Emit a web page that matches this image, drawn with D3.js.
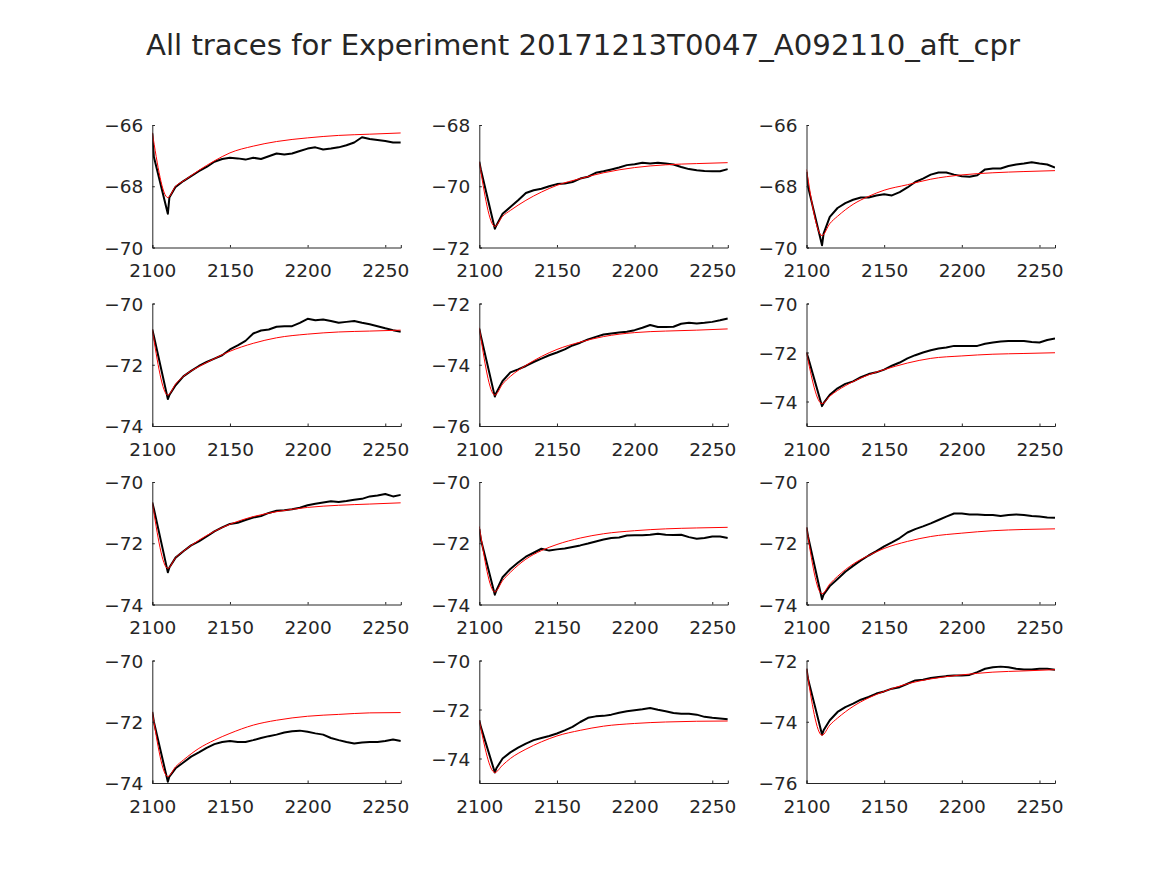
<!DOCTYPE html>
<html>
<head>
<meta charset="utf-8">
<script src="https://cdn.jsdelivr.net/npm/d3@7"></script>
<style>
  html, body { margin: 0; padding: 0; background: #ffffff; }
  svg { display: block; }
  text { font-family: "DejaVu Sans", sans-serif; fill: #262626; }
</style>
</head>
<body>
<div id="chart"></div>
<script>
const titleText = "All traces for Experiment 20171213T0047_A092110_aft_cpr";
const xDomain = [2100, 2260];
const xTicks = [2100, 2150, 2200, 2250];

// time samples for the recorded traces (black) and the fitted curves (red)
const traceTimes = [2100, 2101, 2110, 2111, 2115, 2120, 2125, 2130, 2135, 2140, 2145, 2150, 2155, 2160, 2165, 2170, 2175, 2180, 2185, 2190, 2195, 2200, 2205, 2210, 2215, 2220, 2225, 2230, 2235, 2240, 2245, 2250, 2255, 2260];
const fitTimes = [2100, 2110, 2115, 2120, 2130, 2140, 2150, 2165, 2180, 2200, 2220, 2240, 2260];

const yDomains = [[-70, -66], [-72, -68], [-70, -66], [-74, -70], [-76, -72], [-75, -70], [-74, -70], [-74, -70], [-74, -70], [-74, -70], [-75, -70], [-76, -72]];

const trace1 = [-66.27, -67.04, -68.90, -68.37, -68.02, -67.83, -67.67, -67.51, -67.37, -67.20, -67.11, -67.07, -67.09, -67.13, -67.07, -67.11, -67.02, -66.93, -66.96, -66.93, -66.85, -66.77, -66.73, -66.80, -66.77, -66.73, -66.66, -66.57, -66.40, -66.46, -66.49, -66.52, -66.57, -66.57];
const fit1 = [-66.25, -68.37, -68.00, -67.83, -67.48, -67.17, -66.91, -66.69, -66.54, -66.42, -66.34, -66.30, -66.26];

const trace2 = [-69.20, -69.45, -71.39, -71.28, -70.90, -70.68, -70.46, -70.22, -70.13, -70.08, -70.00, -69.93, -69.91, -69.86, -69.75, -69.69, -69.56, -69.51, -69.45, -69.39, -69.31, -69.28, -69.23, -69.26, -69.23, -69.26, -69.29, -69.37, -69.44, -69.48, -69.50, -69.51, -69.51, -69.44];
const fit2 = [-69.20, -71.31, -70.98, -70.79, -70.46, -70.19, -69.97, -69.75, -69.56, -69.39, -69.30, -69.26, -69.23];

const trace3 = [-67.53, -68.02, -69.93, -69.55, -69.00, -68.71, -68.55, -68.44, -68.37, -68.37, -68.30, -68.26, -68.30, -68.19, -68.04, -67.86, -67.75, -67.62, -67.55, -67.55, -67.62, -67.67, -67.69, -67.64, -67.45, -67.42, -67.42, -67.34, -67.29, -67.26, -67.22, -67.26, -67.29, -67.39];
const fit3 = [-67.45, -69.61, -69.22, -68.98, -68.59, -68.33, -68.13, -67.95, -67.77, -67.63, -67.56, -67.52, -67.49];

const trace4 = [-70.85, -71.06, -73.12, -72.99, -72.67, -72.38, -72.20, -72.04, -71.91, -71.80, -71.69, -71.50, -71.37, -71.22, -70.98, -70.88, -70.85, -70.76, -70.74, -70.74, -70.63, -70.50, -70.55, -70.52, -70.57, -70.63, -70.60, -70.57, -70.63, -70.68, -70.74, -70.81, -70.87, -70.92];
const fit4 = [-70.85, -72.99, -72.63, -72.38, -72.06, -71.80, -71.56, -71.30, -71.12, -71.00, -70.93, -70.90, -70.87];

const trace5 = [-72.82, -73.06, -75.04, -74.91, -74.53, -74.25, -74.15, -74.04, -73.91, -73.80, -73.69, -73.60, -73.50, -73.37, -73.28, -73.17, -73.09, -73.01, -72.98, -72.95, -72.92, -72.87, -72.79, -72.70, -72.77, -72.77, -72.76, -72.66, -72.63, -72.65, -72.63, -72.60, -72.55, -72.49];
const fit5 = [-72.79, -74.99, -74.63, -74.38, -74.02, -73.73, -73.50, -73.26, -73.08, -72.95, -72.90, -72.87, -72.83];

const trace6 = [-72.00, -72.20, -74.19, -74.07, -73.73, -73.46, -73.28, -73.18, -73.01, -72.88, -72.81, -72.70, -72.54, -72.41, -72.24, -72.11, -72.00, -71.91, -71.84, -71.80, -71.73, -71.73, -71.73, -71.73, -71.64, -71.59, -71.55, -71.53, -71.53, -71.53, -71.57, -71.59, -71.49, -71.43];
const fit6 = [-72.00, -74.09, -73.78, -73.55, -73.19, -72.91, -72.70, -72.43, -72.24, -72.14, -72.07, -72.04, -72.01];

const trace7 = [-70.67, -70.87, -72.95, -72.79, -72.47, -72.26, -72.07, -71.94, -71.78, -71.61, -71.48, -71.37, -71.33, -71.24, -71.16, -71.11, -71.01, -70.94, -70.92, -70.89, -70.84, -70.76, -70.71, -70.67, -70.63, -70.65, -70.62, -70.58, -70.55, -70.47, -70.44, -70.39, -70.47, -70.42];
const fit7 = [-70.67, -72.82, -72.47, -72.26, -71.90, -71.61, -71.38, -71.13, -70.97, -70.83, -70.76, -70.72, -70.68];

const trace8 = [-71.54, -71.88, -73.68, -73.54, -73.11, -72.84, -72.63, -72.44, -72.31, -72.18, -72.24, -72.20, -72.17, -72.12, -72.07, -72.01, -71.94, -71.88, -71.83, -71.81, -71.75, -71.74, -71.74, -71.72, -71.69, -71.72, -71.73, -71.72, -71.80, -71.85, -71.83, -71.78, -71.78, -71.83];
const fit8 = [-71.45, -73.59, -73.22, -72.95, -72.52, -72.24, -72.04, -71.83, -71.69, -71.59, -71.53, -71.50, -71.48];

const trace9 = [-71.48, -71.78, -73.83, -73.68, -73.40, -73.17, -72.93, -72.74, -72.56, -72.40, -72.26, -72.10, -71.97, -71.83, -71.65, -71.54, -71.45, -71.35, -71.24, -71.13, -71.03, -71.03, -71.06, -71.06, -71.08, -71.08, -71.11, -71.08, -71.06, -71.08, -71.11, -71.13, -71.16, -71.17];
const fit9 = [-71.48, -73.65, -73.33, -73.08, -72.68, -72.40, -72.17, -71.94, -71.78, -71.67, -71.59, -71.55, -71.53];

const trace10 = [-71.68, -72.00, -73.96, -73.79, -73.52, -73.33, -73.14, -73.00, -72.85, -72.73, -72.66, -72.63, -72.66, -72.66, -72.60, -72.53, -72.47, -72.42, -72.35, -72.31, -72.29, -72.33, -72.38, -72.42, -72.53, -72.60, -72.66, -72.71, -72.68, -72.66, -72.66, -72.63, -72.58, -72.63];
const fit10 = [-71.68, -73.79, -73.47, -73.25, -72.87, -72.60, -72.38, -72.11, -71.95, -71.82, -71.76, -71.71, -71.70];

const trace11 = [-72.44, -72.71, -74.57, -74.40, -74.00, -73.75, -73.56, -73.39, -73.25, -73.16, -73.08, -72.98, -72.85, -72.71, -72.51, -72.34, -72.28, -72.26, -72.21, -72.13, -72.07, -72.03, -71.99, -71.94, -72.01, -72.07, -72.14, -72.17, -72.17, -72.21, -72.30, -72.34, -72.37, -72.40];
const fit11 = [-72.44, -74.57, -74.27, -74.00, -73.62, -73.32, -73.08, -72.85, -72.68, -72.57, -72.51, -72.48, -72.47];

const trace12 = [-72.27, -72.60, -74.42, -74.28, -73.95, -73.68, -73.52, -73.41, -73.28, -73.19, -73.08, -73.01, -72.92, -72.87, -72.76, -72.65, -72.63, -72.57, -72.54, -72.51, -72.49, -72.49, -72.47, -72.38, -72.27, -72.22, -72.20, -72.22, -72.27, -72.29, -72.29, -72.27, -72.27, -72.30];
const fit12 = [-72.27, -74.44, -74.11, -73.88, -73.50, -73.22, -73.01, -72.76, -72.60, -72.47, -72.38, -72.34, -72.30];

const traces = [trace1, trace2, trace3, trace4, trace5, trace6, trace7, trace8, trace9, trace10, trace11, trace12];
const fits = [fit1, fit2, fit3, fit4, fit5, fit6, fit7, fit8, fit9, fit10, fit11, fit12];

// ---- layout ----
const W = 1167, H = 875;
const colLefts = [152.3, 479.3, 806.5];
const plotW = 248.5;
const rowTops = [125, 303.5, 482, 660.5];
const plotH = 122.5;
const axisColor = "#262626";
const tickLen = 2.5;
const fontSize = 18.5;

const svg = d3.select("#chart").append("svg")
  .attr("width", W).attr("height", H)
  .attr("viewBox", `0 0 ${W} ${H}`);
svg.append("rect").attr("width", W).attr("height", H).attr("fill", "#ffffff");

svg.append("text")
  .attr("x", 583).attr("y", 55)
  .attr("text-anchor", "middle")
  .style("font-size", "29.2px")
  .text(titleText);

const fmt = d3.format("d"); // uses the Unicode minus sign like the reference

traces.forEach((tr, i) => {
  const r = Math.floor(i / 3), c = i % 3;
  const x0 = colLefts[c], y0 = rowTops[r];
  const g = svg.append("g").attr("transform", `translate(${x0},${y0})`);
  const x = d3.scaleLinear().domain(xDomain).range([0, plotW]);
  const yd = yDomains[i];
  const y = d3.scaleLinear().domain(yd).range([plotH, 0]);

  const clipId = "clip" + i;
  g.append("clipPath").attr("id", clipId).append("rect")
    .attr("x", 0).attr("y", -1).attr("width", plotW).attr("height", plotH + 2);

  const traceData = traceTimes.map((t, k) => [t, tr[k]]);
  const fitData = fitTimes.map((t, k) => [t, fits[i][k]]);

  const traceLine = d3.line().x(d => x(d[0])).y(d => y(d[1])).curve(d3.curveLinear);
  const fitLine = d3.line().x(d => x(d[0])).y(d => y(d[1])).curve(d3.curveMonotoneX);

  const plotG = g.append("g").attr("clip-path", `url(#${clipId})`);
  plotG.append("path").datum(traceData)
    .attr("d", traceLine)
    .attr("fill", "none").attr("stroke", "#000000")
    .attr("stroke-width", 2).attr("stroke-linejoin", "round");
  plotG.append("path").datum(fitData)
    .attr("d", fitLine)
    .attr("fill", "none").attr("stroke", "#ff0000")
    .attr("stroke-width", 1);

  const yTicks = d3.range(Math.ceil(yd[0] / 2) * 2, yd[1] + 1e-9, 2);

  const xAxis = d3.axisBottom(x).tickValues(xTicks).tickFormat(fmt).tickSize(-tickLen).tickPadding(14);
  const yAxis = d3.axisLeft(y).tickValues(yTicks).tickFormat(fmt).tickSize(-tickLen).tickPadding(9);

  const gx = g.append("g").attr("transform", `translate(0,${plotH})`).call(xAxis);
  const gy = g.append("g").call(yAxis);
  [gx, gy].forEach(a => {
    a.select(".domain").attr("stroke", axisColor).attr("stroke-width", 1);
    a.selectAll(".tick line").attr("stroke", axisColor).attr("stroke-width", 1);
    a.selectAll(".tick text")
      .attr("fill", axisColor)
      .style("font-family", "'DejaVu Sans', sans-serif")
      .style("font-size", fontSize + "px");
  });
  gx.selectAll(".tick text").attr("dy", null).attr("y", 29.5);
  gy.selectAll(".tick text").attr("x", -9).attr("dy", "0.36em");
});
</script>
</body>
</html>
